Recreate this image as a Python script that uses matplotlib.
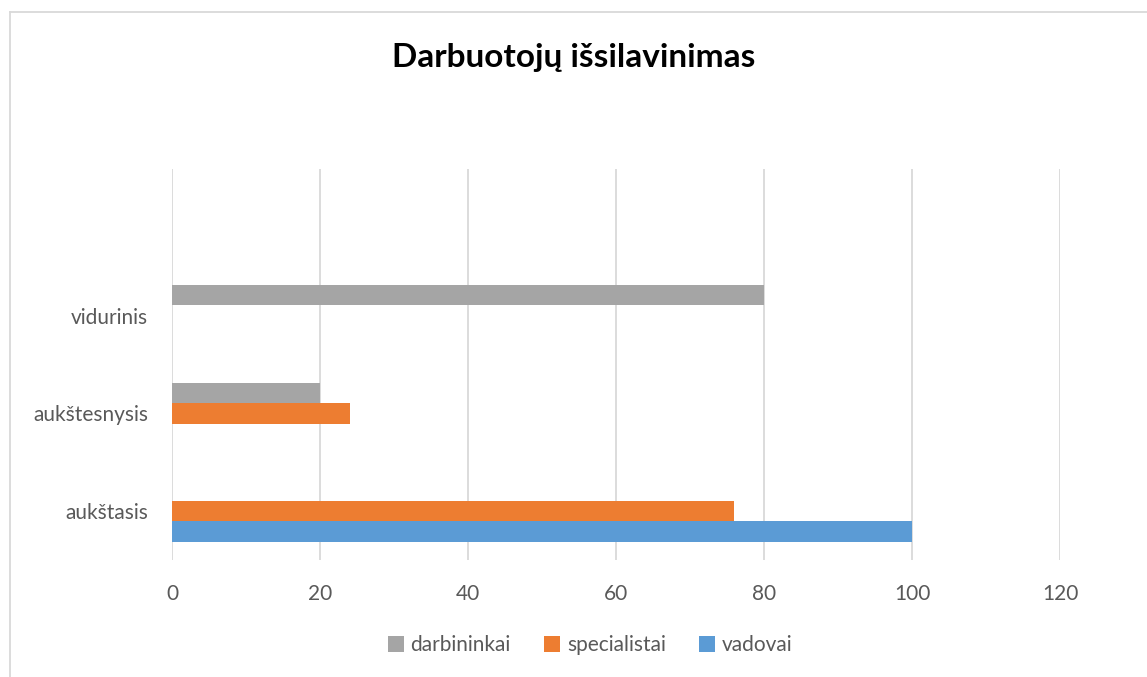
import matplotlib
matplotlib.use("Agg")
import matplotlib.pyplot as plt
from matplotlib.lines import Line2D
import numpy as np

plt.rcParams['font.family'] = ['Lato', 'DejaVu Sans']

title = "Darbuotojų išsilavinimas"
categories = ["aukštasis", "aukštesnysis", "vidurinis", ""]
vadovai = [100, 0, 0, 0]
specialistai = [76, 24, 0, 0]
darbininkai = [0, 20, 80, 0]
xticks = [0, 20, 40, 60, 80, 100, 120]

series = [("vadovai", vadovai, "#5B9BD5"),
          ("specialistai", specialistai, "#ED7D31"),
          ("darbininkai", darbininkai, "#A5A5A5")]

fig = plt.figure(figsize=(11.47, 6.77), dpi=100)
ax = fig.add_axes([172/1147, 1-560/677, (1060-172)/1147, (560-169)/677])

y = np.arange(len(categories))
h = 0.208
for i, (name, vals, col) in enumerate(series):
    ax.barh(y + (i-1)*h, vals, height=h, color=col, label=name, zorder=3)

ax.set_xlim(0, 120)
ax.set_ylim(-0.5, len(categories)-0.5)
ax.set_xticks(xticks)
ax.set_yticks(y)
ax.set_yticklabels(categories)
for s in ax.spines.values():
    s.set_visible(False)
ax.grid(axis='x', color='#D9D9D9', linewidth=1.3, zorder=0)
ax.tick_params(axis='both', length=0, labelsize=15, colors='#595959')
ax.tick_params(axis='x', pad=17)
ax.tick_params(axis='y', pad=17)

fig.text(0.5, 1-57/677, title, ha='center', va='center', fontsize=24,
         fontweight='bold', color='black')

handles = [Line2D([], [], marker='s', linestyle='none', markersize=11,
                  color=c, markeredgewidth=0) for _, _, c in series[::-1]]
labels = [n for n, _, _ in series[::-1]]
fig.legend(handles, labels, loc='center', bbox_to_anchor=(590/1147, 1-645/677),
           ncol=3, frameon=False, fontsize=15, handlelength=0.8,
           handletextpad=0.3, columnspacing=1.6, labelcolor='#595959')

# chart frame (top and left edges visible)
fig.add_artist(Line2D([9.5/1147, 9.5/1147], [0, 1-11.5/677], color='#D9D9D9',
                      linewidth=1.3, transform=fig.transFigure))
fig.add_artist(Line2D([9.5/1147, 1], [1-11.5/677, 1-11.5/677], color='#D9D9D9',
                      linewidth=1.3, transform=fig.transFigure))

fig.savefig("out.png", dpi=100)
